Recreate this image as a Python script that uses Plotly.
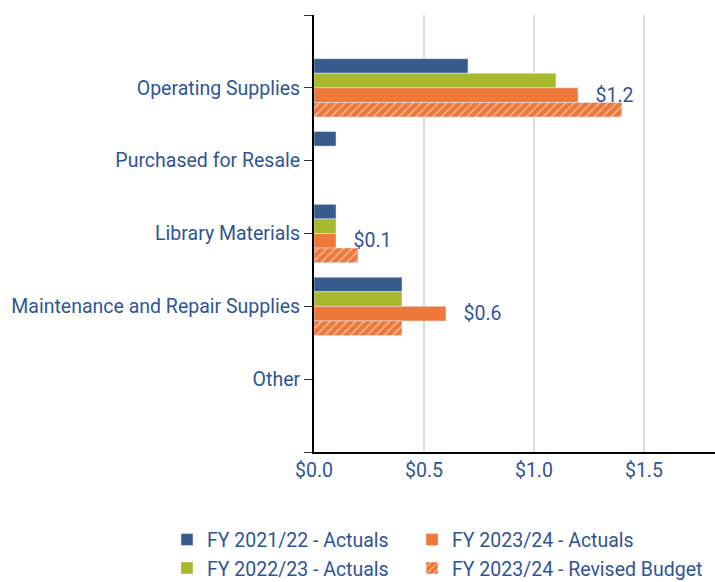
import plotly.graph_objects as go

categories = ["Operating Supplies", "Purchased for Resale", "Library Materials",
              "Maintenance and Repair Supplies", "Other"]
fy2122_actuals = [0.7, 0.1, 0.1, 0.4, 0.0]
fy2223_actuals = [1.1, 0.0, 0.1, 0.4, 0.0]
fy2324_actuals = [1.2, 0.0, 0.1, 0.6, 0.0]
fy2324_revised = [1.4, 0.0, 0.2, 0.4, 0.0]
series_names = ["FY 2021/22 - Actuals", "FY 2022/23 - Actuals",
                "FY 2023/24 - Actuals", "FY 2023/24 - Revised Budget"]
x_ticks = [0.0, 0.5, 1.0, 1.5]

BLUE = "#385B8D"
GREEN = "#A9B92F"
ORANGE = "#EE773A"
TEXT = "#2F5597"
FONT = "Roboto"
FS = 19.5

ypos = list(range(len(categories)))

fig = go.Figure()
fig.add_trace(go.Bar(y=ypos, x=fy2122_actuals, orientation="h", name=series_names[0],
                     marker=dict(color=BLUE), legend="legend"))
fig.add_trace(go.Bar(y=ypos, x=fy2223_actuals, orientation="h", name=series_names[1],
                     marker=dict(color=GREEN), legend="legend"))
labels = [("\u00a0\u00a0\u00a0$%.1f" % v) if v else "" for v in fy2324_actuals]
fig.add_trace(go.Bar(y=ypos, x=fy2324_actuals, orientation="h", name=series_names[2],
                     marker=dict(color=ORANGE), legend="legend2",
                     text=labels, textposition="outside", cliponaxis=False,
                     constraintext="none",
                     textfont=dict(size=FS, color=TEXT, family=FONT)))
fig.add_trace(go.Bar(y=ypos, x=fy2324_revised, orientation="h", name=series_names[3],
                     marker=dict(color=ORANGE, pattern=dict(shape="/", fgcolor="white",
                                 bgcolor=ORANGE, fillmode="overlay", size=6, solidity=0.25)),
                     legend="legend2"))

n = len(categories)
leg_common = dict(orientation="v", xanchor="left", y=-0.1566, yanchor="top",
                  traceorder="normal", bgcolor="rgba(0,0,0,0)",
                  font=dict(size=FS, color=TEXT, family=FONT))
fig.update_layout(
    width=715, height=582,
    margin=dict(l=314, r=0, t=15, b=130, autoexpand=False),
    paper_bgcolor="white", plot_bgcolor="white",
    barmode="group", bargap=0.2, bargroupgap=0,
    font=dict(family=FONT, size=FS, color=TEXT),
    showlegend=True,
    legend=dict(x=-0.3666, **leg_common),
    legend2=dict(x=0.2444, **leg_common),
    xaxis=dict(range=[0, 1.823], tickvals=x_ticks, ticktext=["$%.1f" % v for v in x_ticks],
               showgrid=True, gridcolor="#DCDCDC", gridwidth=2,
               showline=True, linecolor="black", linewidth=2, zeroline=False,
               ticks="", tickfont=dict(size=FS, color=TEXT)),
    yaxis=dict(range=[n, -1], tickvals=list(range(-1, n + 1)),
               ticktext=[""] + categories + [""],
               showgrid=False, zeroline=False, showline=True, linecolor="black",
               linewidth=2, ticks="outside", ticklen=8, tickcolor="#333333",
               tickfont=dict(size=FS, color=TEXT)),
)

fig.write_html("out.html", config={"displayModeBar": False},
               post_script="document.body.style.margin='0';document.body.style.overflow='hidden';")
